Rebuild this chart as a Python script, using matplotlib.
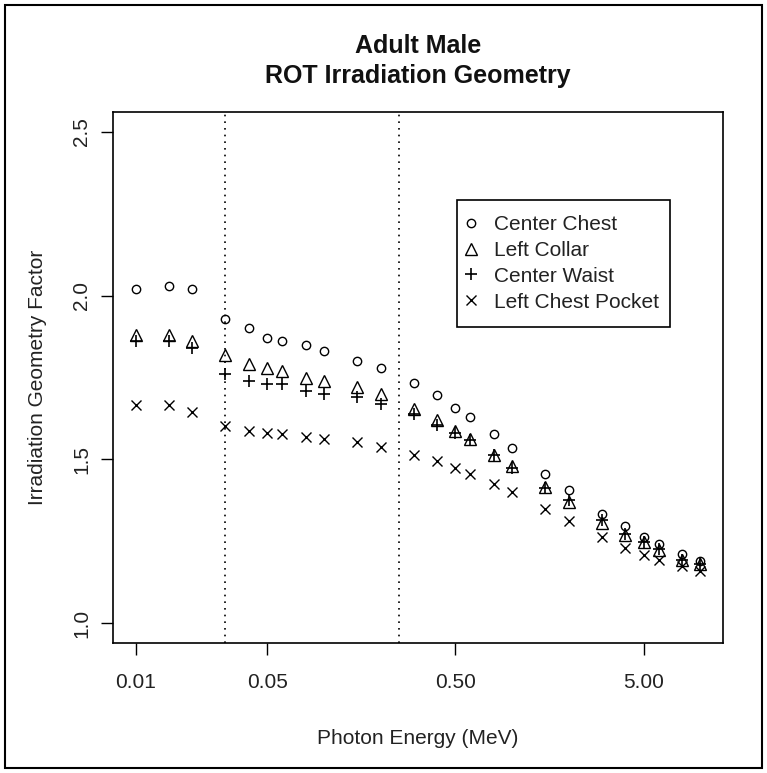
import matplotlib
matplotlib.use('Agg')
import matplotlib.pyplot as plt
from matplotlib.patches import Rectangle
from matplotlib.ticker import NullLocator

plt.rcParams['font.family'] = ['Liberation Sans', 'DejaVu Sans']

# photon energies (MeV) and irradiation geometry factors per dosimeter position
energy = [0.01, 0.015, 0.02, 0.03, 0.04, 0.05, 0.06, 0.08, 0.1, 0.15, 0.2,
          0.3, 0.4, 0.5, 0.6, 0.8, 1.0, 1.5, 2.0, 3.0, 4.0, 5.0, 6.0, 8.0, 10.0]

center_chest = [2.02, 2.03, 2.02, 1.93, 1.90, 1.87, 1.86, 1.85, 1.83, 1.80, 1.78,
                1.734, 1.696, 1.657, 1.629, 1.577, 1.535, 1.457, 1.408, 1.335,
                1.297, 1.263, 1.243, 1.213, 1.19]
left_collar = [1.88, 1.88, 1.86, 1.82, 1.79, 1.78, 1.77, 1.75, 1.74, 1.72, 1.70,
               1.655, 1.619, 1.587, 1.563, 1.515, 1.479, 1.416, 1.370, 1.305,
               1.268, 1.248, 1.223, 1.194, 1.182]
center_waist = [1.86, 1.86, 1.84, 1.76, 1.74, 1.73, 1.73, 1.71, 1.70, 1.69, 1.67,
                1.640, 1.604, 1.581, 1.558, 1.513, 1.475, 1.413, 1.375, 1.316,
                1.274, 1.248, 1.228, 1.192, 1.180]
left_chest_pocket = [1.665, 1.665, 1.645, 1.601, 1.587, 1.581, 1.579, 1.570, 1.563,
                     1.553, 1.538, 1.513, 1.494, 1.474, 1.455, 1.426, 1.401, 1.348,
                     1.311, 1.263, 1.231, 1.210, 1.192, 1.174, 1.160]

cutoffs = [0.03, 0.25]
xticks = [0.01, 0.05, 0.5, 5.0]
xtick_labels = ['0.01', '0.05', '0.50', '5.00']
yticks = [1.0, 1.5, 2.0, 2.5]
ytick_labels = ['1.0', '1.5', '2.0', '2.5']

W, H = 767, 773
fig = plt.figure(figsize=(W / 100, H / 100), dpi=100)
ax = fig.add_axes([113 / W, 1 - 643 / H, 610 / W, 531 / H])

ax.plot(energy, center_chest, ls='none', marker='o', ms=6, mfc='none',
        mec='black', mew=1, label='Center Chest')
ax.plot(energy, left_collar, ls='none', marker='^', ms=8, mfc='none',
        mec='black', mew=1, label='Left Collar')
ax.plot(energy, center_waist, ls='none', marker='+', ms=9, color='black',
        mew=1.2, label='Center Waist')
ax.plot(energy, left_chest_pocket, ls='none', marker='x', ms=7, color='black',
        mew=1, label='Left Chest Pocket')

for c in cutoffs:
    ax.axvline(c, color='black', ls=(0, (1, 3)), lw=1.2)

ax.set_xscale('log')
ax.set_xlim(10 ** -2.12, 10 ** 1.12)
ax.set_ylim(0.94, 2.56)
ax.set_xticks(xticks)
ax.set_xticklabels(xtick_labels)
ax.xaxis.set_minor_locator(NullLocator())
ax.set_yticks(yticks)
ax.set_yticklabels(ytick_labels, rotation=90, va='center')
ax.tick_params(length=8.5, width=1, labelsize=15, colors='black',
               labelcolor='#222222')
ax.tick_params(axis='x', pad=13)
ax.tick_params(axis='y', pad=7)
for s in ax.spines.values():
    s.set_linewidth(1.2)

# legend entries without frame; the box is drawn separately
leg = ax.legend(loc='upper left', bbox_to_anchor=(462 / W, 1 - 215 / H),
                bbox_transform=fig.transFigure, frameon=False, fontsize=15,
                handlelength=0.9, handletextpad=0.62, labelspacing=0.33,
                borderpad=0, borderaxespad=0)
for t in leg.get_texts():
    t.set_color('#222222')
fig.add_artist(Rectangle((457 / W, 1 - 327 / H), 213 / W, 127 / H,
                         transform=fig.transFigure, fill=False, lw=1.2,
                         ec='black'))

cx = (113 + 723) / 2 / W
fig.text(cx, 1 - 46 / H, 'Adult Male', ha='center', va='center',
         fontsize=18, fontweight='bold', color='#111111')
fig.text(cx, 1 - 76 / H, 'ROT Irradiation Geometry', ha='center',
         va='center', fontsize=18, fontweight='bold', color='#111111')
fig.text(cx, 1 - 738 / H, 'Photon Energy (MeV)', ha='center', va='center',
         fontsize=15, color='#222222')
fig.text(38 / W, 1 - 377 / H, 'Irradiation Geometry Factor', ha='center',
         va='center', rotation=90, fontsize=15, color='#222222')

fig.add_artist(Rectangle((5 / W, 5 / H), 757 / W, 763 / H,
                         transform=fig.transFigure, fill=False, lw=1.5,
                         ec='black'))

fig.savefig('out.png', dpi=100)
